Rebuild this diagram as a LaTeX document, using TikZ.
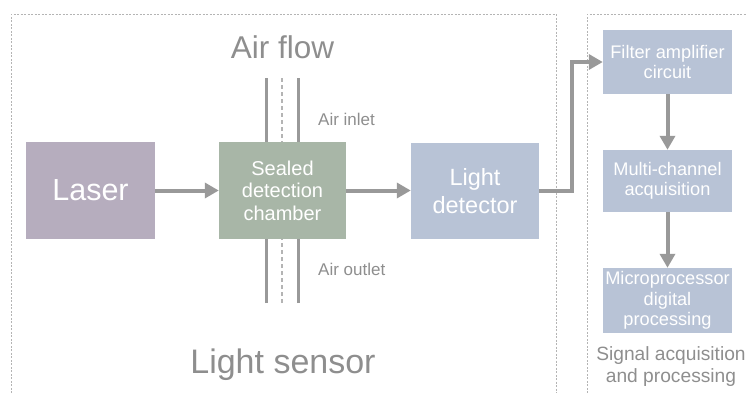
\documentclass[tikz,border=0pt]{standalone}
\usepackage{fontspec}
\setmainfont{Liberation Sans}
\usetikzlibrary{arrows.meta}
\definecolor{lasercol}{HTML}{B6ADBE}
\definecolor{chambercol}{HTML}{A8B6A7}
\definecolor{bluecol}{HTML}{B8C3D6}
\definecolor{arrowgrey}{HTML}{999999}
\definecolor{textgrey}{HTML}{8E8E8E}
\definecolor{framegrey}{HTML}{B4B4B4}
\begin{document}
\begin{tikzpicture}[x=1pt,y=-1pt,
  box/.style={rectangle, inner sep=0pt, text=white, align=center},
  conn/.style={draw=arrowgrey, line width=4pt, -{Triangle[length=14pt,width=15pt]}},
  pipe/.style={draw=arrowgrey, line width=3pt},
  pipemid/.style={draw=framegrey, line width=1.5pt, dash pattern=on 4pt off 3pt},
  frame/.style={draw=framegrey, line width=0.8pt, dash pattern=on 2pt off 1.5pt},
  lbl/.style={text=textgrey, inner sep=0pt}]
\useasboundingbox (0,0) rectangle (747,392);

% frames
\draw[frame] (11,400) -- (11,14) -- (556,14) -- (556,400);
\draw[frame] (587,400) -- (587,14) -- (760,14);

% boxes
\node[box, fill=lasercol, minimum width=129pt, minimum height=97pt,
  font=\fontsize{30.5}{36}\selectfont] (laser) at (90.5,190.5) {Laser};
\node[box, fill=chambercol, minimum width=127pt, minimum height=97pt,
  font=\fontsize{20}{22.5}\selectfont] (ch) at (282.5,190.5) {Sealed\\detection\\chamber};
\node[box, fill=bluecol, minimum width=128pt, minimum height=96pt,
  font=\fontsize{23.5}{28}\selectfont] (det) at (475,191) {Light\\detector};
\node[box, fill=bluecol, minimum width=129pt, minimum height=64pt,
  font=\fontsize{18.2}{20.5}\selectfont] (filt) at (667.5,62) {Filter amplifier\\circuit};
\node[box, fill=bluecol, minimum width=129pt, minimum height=62pt,
  font=\fontsize{18.2}{20.5}\selectfont] (multi) at (667.5,181) {Multi-channel\\acquisition};
\node[box, fill=bluecol, minimum width=129pt, minimum height=65pt,
  font=\fontsize{18.2}{20.5}\selectfont] (micro) at (667.5,300.5) {Microprocessor\\digital\\processing};

% labels
\node[lbl, anchor=base, font=\fontsize{31.5}{36}\selectfont] (airflow) at (282.5,58) {Air flow};
\node[lbl, anchor=base, font=\fontsize{34}{38}\selectfont] (sensor) at (283,373) {Light sensor};
\node[lbl, anchor=base west, font=\fontsize{17}{20}\selectfont] (inlet) at (318,125) {Air inlet};
\node[lbl, anchor=base west, font=\fontsize{17}{20}\selectfont] (outlet) at (318,275) {Air outlet};
\node[lbl, align=center, font=\fontsize{19.2}{22}\selectfont] (sig) at (671,367) {Signal acquisition\\and processing};

% pipes
\coordinate (pl) at (266,78);
\coordinate (pm) at (282,78);
\coordinate (pr) at (298,78);
\coordinate (ql) at (266,303);
\coordinate (qm) at (282,303);
\coordinate (qr) at (298,303);
\draw[pipe] (pl) -- (pl |- ch.north);
\draw[pipe] (pr) -- (pr |- ch.north);
\draw[pipemid] (pm) -- (pm |- ch.north);
\draw[pipe] (ql) -- (ql |- ch.south);
\draw[pipe] (qr) -- (qr |- ch.south);
\draw[pipemid] (qm) -- (qm |- ch.south);

% connectors
\coordinate (turn) at (572,0);
\draw[conn] (laser.east) -- (ch.west);
\draw[conn] (ch.east) -- (ch.east -| det.west);
\draw[conn] (det.east) -- (det.east -| turn) -- (turn |- filt.west) -- (filt.west);
\draw[conn] (filt.south) -- (multi.north);
\draw[conn] (multi.south) -- (micro.north);
\end{tikzpicture}
\end{document}
